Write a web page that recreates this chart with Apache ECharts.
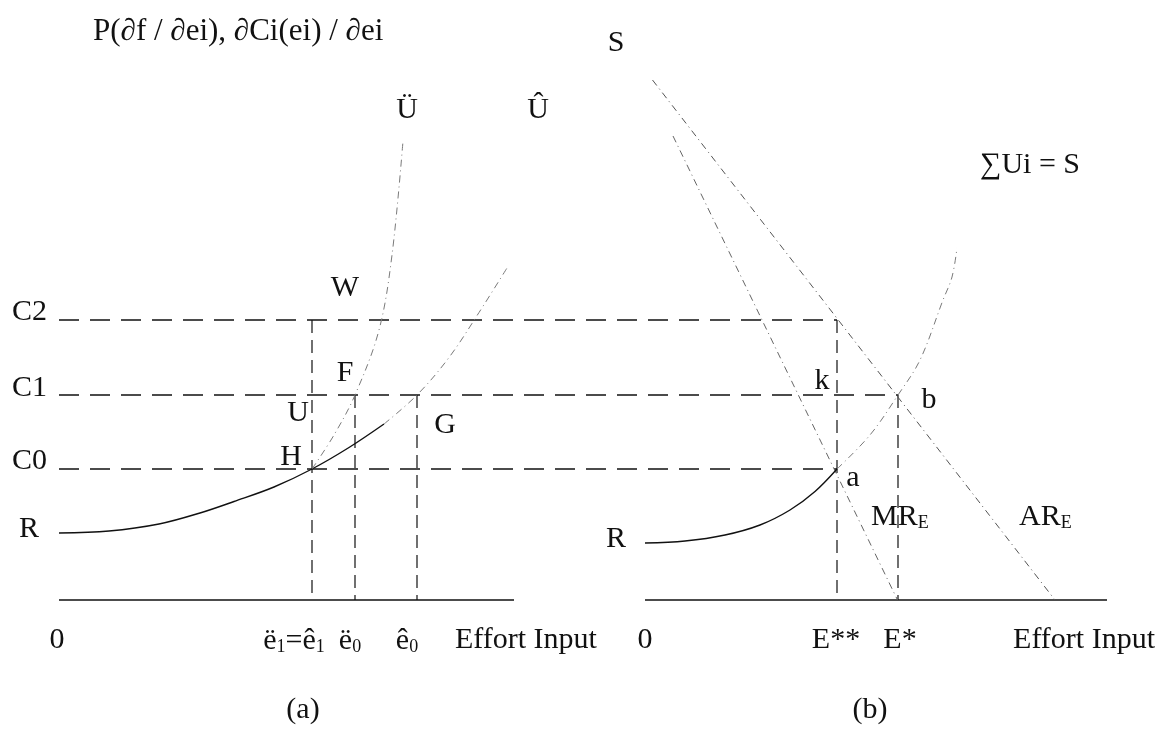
<!DOCTYPE html>
<html>
<head>
<meta charset="utf-8">
<script src="https://cdn.jsdelivr.net/npm/echarts@6/dist/echarts.min.js"></script>
<style>
  html, body { margin: 0; padding: 0; background: #fff; }
  #chart { width: 1166px; height: 736px; }
</style>
</head>
<body>
<div id="chart"></div>
<script>
// ---------- data (abstract diagram units) ----------
const costLevelNames = ['C0', 'C1', 'C2'];
const costLevels = [2.62, 4.1, 5.6];

// panel (a) effort levels: ë1=ê1, ë0, ê0
const panelAEffortNames = ['ë1=ê1', 'ë0', 'ê0'];
const panelAEfforts = [5.06, 5.92, 7.16];
const panelAAxisLength = 9.1;

// panel (b) effort levels: E**, E*
const panelBEffortNames = ['E**', 'E*'];
const panelBEfforts = [3.84, 5.06];
const panelBAxisLength = 9.24;
const panelBOrigin = 11.72;

// panel (a) curves
const curveUHatSolid = [[0, 1.34], [1, 1.38], [2, 1.52], [2.82, 1.74], [3.5, 1.97], [4.3, 2.26], [5.06, 2.62], [5.8, 3.05], [6.5, 3.52]];
const curveUHatFaint = [[6.5, 3.52], [7.16, 4.1], [7.8, 4.85], [8.4, 5.75], [8.96, 6.64]];
const curveUDiaer = [[5.06, 2.62], [5.5, 3.3], [5.92, 4.1], [6.4, 5.4], [6.66, 6.9], [6.88, 9.18]];

// panel (b) curves (relative to panel b origin)
const curveSumSolid = [[0, 1.14], [0.8, 1.18], [1.6, 1.3], [2.3, 1.5], [2.9, 1.8], [3.4, 2.17], [3.84, 2.62]];
const curveSumFaint = [[3.84, 2.62], [4.5, 3.3], [5.06, 4.1], [5.5, 4.8], [5.96, 6.0], [6.14, 6.46], [6.24, 7.04]];
const lineAR = [[0.15, 10.4], [8.2, 0]];
const lineMR = [[0.56, 9.28], [5.05, 0]];

// ---------- build ----------
const FONT = "'Liberation Serif', 'DejaVu Serif', serif";
const INK = '#111';
const FAINT = '#7a7a7a';
const toB = pts => pts.map(([x, y]) => [panelBOrigin + x, y]);

function seg(data, style, z) {
  return {
    type: 'line', data: data, showSymbol: false, symbol: 'none',
    lineStyle: style, silent: true, animation: false, z: z || 2, clip: false
  };
}
function smooth(data, style) {
  const s = seg(data, style, 3);
  s.smooth = 0.35;
  return s;
}

const solidAxis = { color: INK, width: 1.6, type: 'solid' };
const hDash = { color: INK, width: 1.6, type: [20, 11] };
const vDash = { color: INK, width: 1.2, type: [13, 7] };
const solidCurve = { color: INK, width: 1.4, type: 'solid' };
const faintCurve = { color: FAINT, width: 1, type: [7, 4, 1, 4] };

const [C0, C1, C2] = costLevels;
const [eA1, eA0dd, eA0hat] = panelAEfforts;
const Ess = panelBOrigin + panelBEfforts[0];
const Es = panelBOrigin + panelBEfforts[1];

const series = [
  // axes
  seg([[0, 0], [panelAAxisLength, 0]], solidAxis),
  seg([[panelBOrigin, 0], [panelBOrigin + panelBAxisLength, 0]], solidAxis),
  // horizontal dashed cost levels
  seg([[0, C2], [Ess, C2]], hDash),
  seg([[0, C1], [Es, C1]], hDash),
  seg([[0, C0], [Ess, C0]], hDash),
  // vertical dashed effort levels
  seg([[eA1, C2], [eA1, 0]], vDash),
  seg([[eA0dd, C1], [eA0dd, 0]], vDash),
  seg([[eA0hat, C1], [eA0hat, 0]], vDash),
  seg([[Ess, C2], [Ess, 0]], vDash),
  seg([[Es, C1], [Es, 0]], vDash),
  // curves panel (a)
  smooth(curveUHatSolid, solidCurve),
  smooth(curveUHatFaint, faintCurve),
  smooth(curveUDiaer, faintCurve),
  // curves panel (b)
  smooth(toB(curveSumSolid), solidCurve),
  smooth(toB(curveSumFaint), faintCurve),
  seg(toB(lineAR), { color: '#555', width: 1, type: [7, 4, 1, 4] }),
  seg(toB(lineMR), { color: '#666', width: 1, type: [7, 4, 1, 4] })
];

const sub = { fontSize: 18, fontFamily: FONT, lineHeight: 12, verticalAlign: 'bottom', fill: INK };
function txt(text, x, y, align, extra) {
  const style = {
    text: text, fontSize: 30, fontFamily: FONT, fill: INK,
    align: align || 'center', verticalAlign: 'middle',
    rich: { s: sub, n: { fontSize: 30, fontFamily: FONT, fill: INK } }
  };
  if (extra) Object.assign(style, extra);
  return { type: 'text', x: x, y: y, silent: true, style: style };
}

const graphic = [
  txt('P(∂f / ∂ei), ∂Ci(ei) / ∂ei', 93, 32, 'left', { fontSize: 31 }),
  txt('S', 616, 43),
  txt('Ü', 407, 110),
  txt('Û', 538, 110),
  txt('∑Ui = S', 980, 165, 'left'),
  txt('W', 345, 288),
  txt(costLevelNames[2], 12, 312, 'left'),
  txt(costLevelNames[1], 12, 388, 'left'),
  txt(costLevelNames[0], 12, 461, 'left'),
  txt('F', 345, 373),
  txt('U', 298, 413),
  txt('H', 291, 457),
  txt('G', 445, 425),
  txt('R', 29, 529),
  txt('R', 616, 539),
  txt('k', 822, 381),
  txt('b', 929, 400),
  txt('a', 853, 478),
  txt('{n|MR}{s|E}', 871, 517, 'left'),
  txt('{n|AR}{s|E}', 1019, 517, 'left'),
  txt('0', 57, 640),
  txt('{n|ë}{s|1}{n|=ê}{s|1}', 294, 641),
  txt('{n|ë}{s|0}', 350, 641),
  txt('{n|ê}{s|0}', 407, 641),
  txt('Effort Input', 455, 640, 'left'),
  txt('0', 645, 640),
  txt(panelBEffortNames[0], 836, 640),
  txt(panelBEffortNames[1], 900, 640),
  txt('Effort Input', 1155, 640, 'right'),
  txt('(a)', 303, 710),
  txt('(b)', 870, 710)
];

const chart = echarts.init(document.getElementById('chart'), null, { renderer: 'canvas' });
chart.setOption({
  animation: false,
  backgroundColor: '#ffffff',
  grid: { left: 59, top: 50, width: 1050, height: 550, containLabel: false },
  xAxis: { type: 'value', min: 0, max: 21, show: false },
  yAxis: { type: 'value', min: 0, max: 11, show: false },
  series: series,
  graphic: graphic
});
</script>
</body>
</html>
